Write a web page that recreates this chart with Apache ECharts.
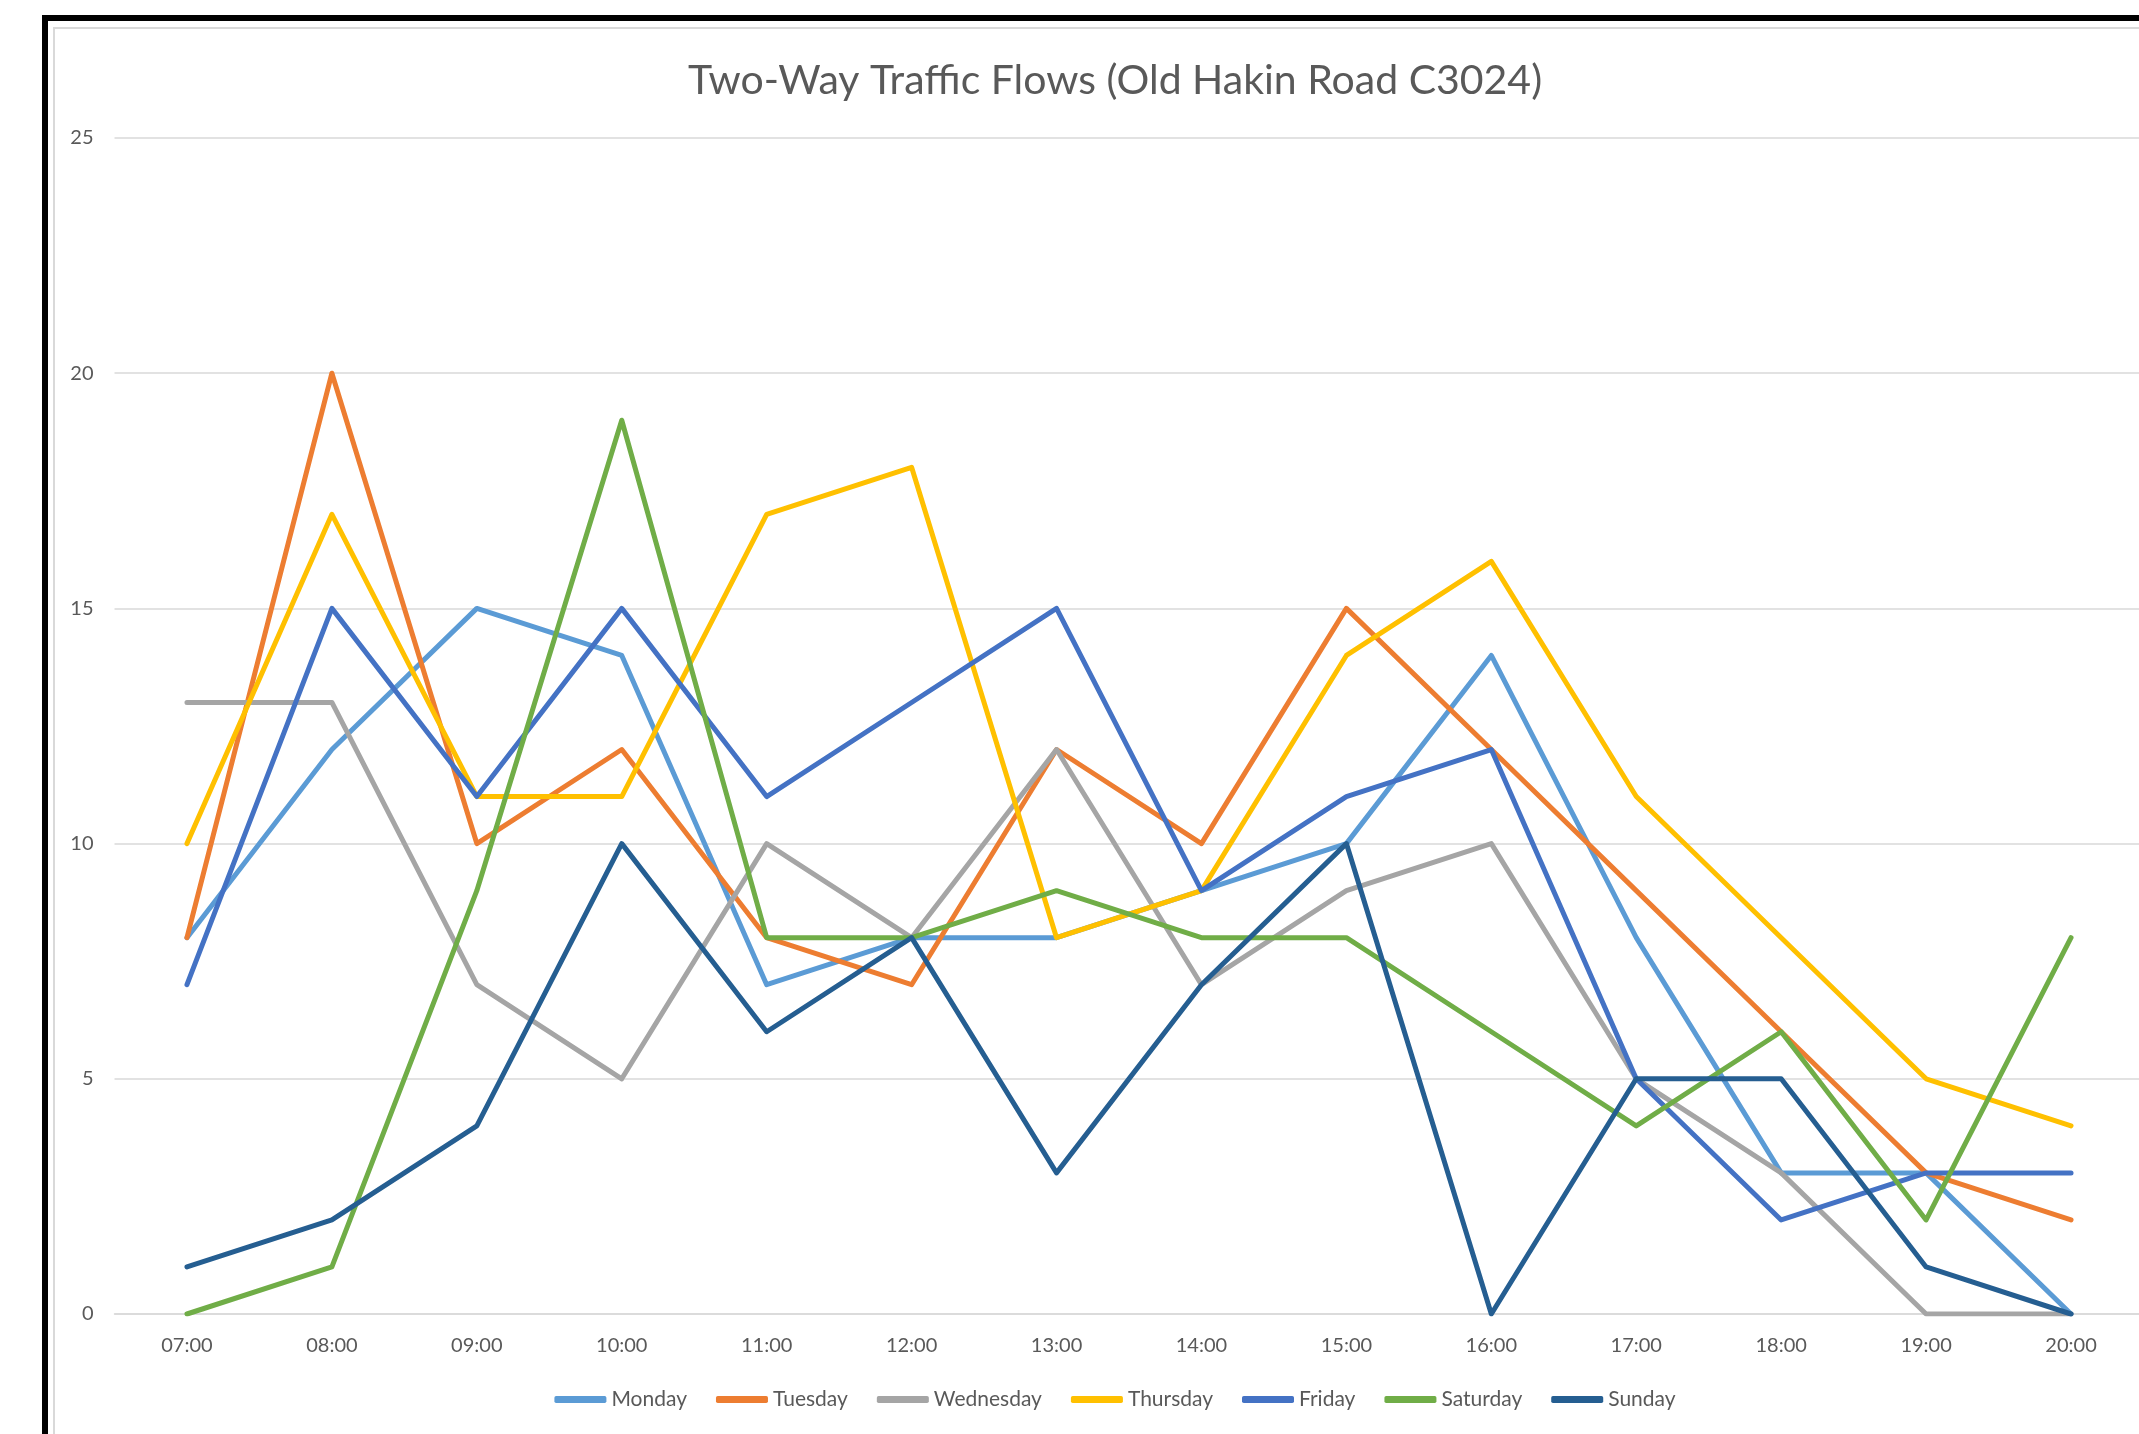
<!DOCTYPE html>
<html>
	<head>
		<meta charset="utf-8">
		<title>Two-Way Traffic Flows</title>
		<script src="https://cdn.jsdelivr.net/npm/echarts@6/dist/echarts.min.js"></script>
		<style>
			body { margin: 0; background: #fff; overflow: hidden; }
			#frame { position: absolute; left: 42px; top: 15px; width: 3000px; height: 3000px;
				border-left: 6px solid #000; border-top: 6px solid #000; }
			#inner { position: absolute; left: 53px; top: 27px; width: 3000px; height: 3000px;
				border-left: 2px solid #d9d9d9; border-top: 2px solid #d9d9d9; }
			#main { position: absolute; left: 0; top: 0; width: 2230px; height: 1434px; }
		</style>
	</head>
	<body>
		<div id="frame"></div>
		<div id="inner"></div>
		<div id="main"></div>
		<script>
		var hours = ['07:00','08:00','09:00','10:00','11:00','12:00','13:00','14:00','15:00','16:00','17:00','18:00','19:00','20:00'];
		var monday    = [8, 12, 15, 14, 7, 8, 8, 9, 10, 14, 8, 3, 3, 0];
		var tuesday   = [8, 20, 10, 12, 8, 7, 12, 10, 15, 12, 9, 6, 3, 2];
		var wednesday = [13, 13, 7, 5, 10, 8, 12, 7, 9, 10, 5, 3, 0, 0];
		var thursday  = [10, 17, 11, 11, 17, 18, 8, 9, 14, 16, 11, 8, 5, 4];
		var friday    = [7, 15, 11, 15, 11, 13, 15, 9, 11, 12, 5, 2, 3, 3];
		var saturday  = [0, 1, 9, 19, 8, 8, 9, 8, 8, 6, 4, 6, 2, 8];
		var sunday    = [1, 2, 4, 10, 6, 8, 3, 7, 10, 0, 5, 5, 1, 0];

		var dayNames = ['Monday','Tuesday','Wednesday','Thursday','Friday','Saturday','Sunday'];
		var dayData = [monday, tuesday, wednesday, thursday, friday, saturday, sunday];
		var colors = ['#5b9bd5','#ed7d31','#a5a5a5','#ffc000','#4472c4','#70ad47','#255e91'];

		var series = [];
		for (var i = 0; i < dayNames.length; i++) {
			series.push({
				name: dayNames[i],
				type: 'line',
				data: dayData[i],
				symbol: 'none',
				lineStyle: { width: 5, color: colors[i], cap: 'round', join: 'round' },
				itemStyle: { color: colors[i] }
			});
		}

		var myChart = echarts.init(document.getElementById('main'));
		var option = {
			animation: false,
			color: colors,
			title: {
				text: 'Two-Way Traffic Flows (Old Hakin Road C3024)',
				left: 'center',
				top: 55,
				textStyle: { fontFamily: 'Lato', fontSize: 41, fontWeight: 'normal', color: '#595959' }
			},
			legend: {
				data: dayNames,
				left: 'center',
				top: 1384,
				icon: 'roundRect',
				itemWidth: 52,
				itemHeight: 7,
				itemGap: 29,
				textStyle: { fontFamily: 'Lato', fontSize: 21, color: '#595959' }
			},
			grid: { left: 114.5, right: 86.5, top: 138, bottom: 120 },
			xAxis: {
				type: 'category',
				data: hours,
				boundaryGap: true,
				axisLine: { show: true, lineStyle: { color: '#d9d9d9', width: 1.5 } },
				axisTick: { show: false },
				axisLabel: { margin: 22, fontFamily: 'Lato', fontSize: 20, color: '#595959' }
			},
			yAxis: {
				type: 'value',
				min: 0,
				max: 25,
				interval: 5,
				axisLine: { show: false },
				axisTick: { show: false },
				axisLabel: { margin: 21, fontFamily: 'Lato', fontSize: 20, color: '#595959' },
				splitLine: { lineStyle: { color: '#d9d9d9', width: 1.5 } }
			},
			series: series
		};
		myChart.setOption(option);
		</script>
	</body>
</html>
